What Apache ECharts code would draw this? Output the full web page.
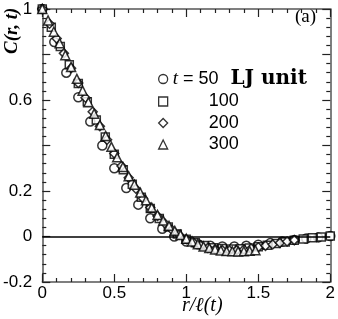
<!DOCTYPE html>
<html><head><meta charset="utf-8">
<script src="https://cdn.jsdelivr.net/npm/echarts@6/dist/echarts.min.js"></script>
<style>html,body{margin:0;padding:0;background:#fff}#c{width:338px;height:319px}</style>
</head><body><div id="c"></div>
<script>
// t = 50
const r50 = [0,0.0833,0.1667,0.25,0.3333,0.4167,0.5,0.5833,0.6667,0.75,0.8333,0.9167,1.0,1.0833,1.1667,1.25,1.3333,1.4167,1.5,1.5833,1.6667,1.75,1.8333,1.9167,2.0];
const c50 = [1.0,0.855,0.72,0.612,0.505,0.40,0.30,0.213,0.14,0.08,0.034,0.0,-0.022,-0.034,-0.041,-0.044,-0.044,-0.041,-0.036,-0.029,-0.022,-0.015,-0.009,-0.004,0.002];
// t = 100
const r100 = [0,0.0625,0.125,0.1875,0.25,0.3125,0.375,0.4375,0.5,0.5625,0.625,0.6875,0.75,0.8125,0.875,0.9375,1.0,1.0625,1.125,1.1875,1.25,1.3125,1.375,1.4375,1.5,1.5625,1.625,1.6875,1.75,1.8125,1.875,1.9375,2.0];
const c100 = [1.0,0.92,0.835,0.755,0.672,0.592,0.512,0.437,0.362,0.293,0.230,0.173,0.123,0.079,0.042,0.011,-0.012,-0.028,-0.040,-0.049,-0.053,-0.055,-0.054,-0.050,-0.045,-0.038,-0.031,-0.024,-0.017,-0.011,-0.006,-0.002,0.002];
// t = 200
const r200 = [0,0.05,0.1,0.15,0.2,0.25,0.3,0.35,0.4,0.45,0.5,0.55,0.6,0.65,0.7,0.75,0.8,0.85,0.9,0.95,1.0,1.05,1.1,1.15,1.2,1.25,1.3,1.35,1.4,1.45,1.5,1.55,1.6,1.65,1.7,1.75];
const c200 = [1.0,0.935,0.87,0.805,0.74,0.675,0.61,0.548,0.485,0.425,0.365,0.31,0.258,0.21,0.167,0.127,0.09,0.058,0.03,0.008,-0.012,-0.027,-0.04,-0.05,-0.056,-0.06,-0.061,-0.06,-0.057,-0.053,-0.047,-0.041,-0.035,-0.028,-0.022,-0.016];
// t = 300
const r300 = [0,0.04,0.08,0.12,0.16,0.2,0.24,0.28,0.32,0.36,0.4,0.44,0.48,0.52,0.56,0.6,0.64,0.68,0.72,0.76,0.8,0.84,0.88,0.92,0.96,1.0,1.04,1.08,1.12,1.16,1.2,1.24,1.28,1.32,1.36,1.4,1.44,1.48];
const c300 = [1.0,0.95,0.9,0.85,0.797,0.745,0.693,0.641,0.59,0.54,0.49,0.442,0.394,0.348,0.306,0.265,0.228,0.193,0.159,0.127,0.095,0.07,0.047,0.025,0.007,-0.01,-0.022,-0.034,-0.044,-0.051,-0.057,-0.061,-0.064,-0.065,-0.066,-0.065,-0.063,-0.06];

const seriesNames = ['50','100','200','300'];
const yTickLabels = ['1','0.6','0.2','0','-0.2'];
const xTickLabels = ['0','0.5','1','1.5','2'];

function pairs(r, c){ return r.map((v,i)=>[v,c[i]]); }

const chart = echarts.init(document.getElementById('c'), null, {renderer:'canvas'});
const axisCol = '#555';
const mk = {color:'#fff', borderColor:'#000', borderWidth:1.5};
function xa(pos, showLab){
  return {type:'value', position:pos, min:0, max:2, interval:0.5,
    axisLine:{show:true, onZero:false, lineStyle:{color:axisCol, width:1.5}},
    axisTick:{show:true, inside:true, length:8, lineStyle:{color:'#222', width:1.2}},
    minorTick:{show:true, splitNumber:5, length:4, lineStyle:{color:'#222', width:1.2}},
    splitLine:{show:false},
    axisLabel:{show:showLab, margin:3, color:'#000', fontFamily:'Liberation Sans', fontSize:17,
      formatter: v => { const s = String(Math.round(v*10)/10); return xTickLabels.includes(s)? s : ''; }}
  };
}
function ya(pos, showLab){
  return {type:'value', position:pos, min:-0.2, max:1, interval:0.2,
    axisLine:{show:true, onZero:false, lineStyle:{color:axisCol, width:1.5}},
    axisTick:{show:true, inside:true, length:8, lineStyle:{color:'#222', width:1.2}},
    minorTick:{show:true, splitNumber:5, length:4, lineStyle:{color:'#222', width:1.2}},
    splitLine:{show:false},
    axisLabel:{show:showLab, margin:10, color:'#000', fontFamily:'Liberation Sans', fontSize:17,
      formatter: v => { const s = String(Math.round(v*100)/100); return yTickLabels.includes(s)? s : ''; }}
  };
}
const symbols = ['circle','rect','diamond','triangle'];
const sizes = [9,8,9,9];
const datas = [pairs(r50,c50), pairs(r100,c100), pairs(r200,c200), pairs(r300,c300)];
const series = seriesNames.map((n,i)=>({
  name:n, type:'scatter', symbol:symbols[i], symbolSize:sizes[i],
  data:datas[i], itemStyle:mk, z:3+i, xAxisIndex:0, yAxisIndex:0
}));
series.unshift({type:'line', data:[], xAxisIndex:0, yAxisIndex:0, z:1,
  markLine:{silent:true, symbol:'none', label:{show:false},
    lineStyle:{color:'#000', type:'solid', width:1.5}, data:[{yAxis:0}]}});

chart.setOption({
  animation:false,
  backgroundColor:'#fff',
  grid:{left:38, right:6, top:9, bottom:37},
  xAxis:[xa('bottom', true), xa('top', false)],
  yAxis:[ya('left', true), ya('right', false)],
  legend:{
    orient:'vertical', left:158, top:69, itemGap:3.5, itemWidth:9, itemHeight:9, padding:0,
    data: seriesNames.map((n,i)=>({name:n, icon:symbols[i]})),
    itemStyle:{color:'#fff', borderColor:'#000', borderWidth:1.3},
    textStyle:{color:'#000', fontFamily:'Liberation Sans', fontSize:18, lineHeight:18,
      rich:{
        it:{fontFamily:'Liberation Serif', fontStyle:'italic', fontSize:19, lineHeight:18},
        b:{fontFamily:'DejaVu Serif', fontWeight:'bold', fontSize:20, lineHeight:18},
        n:{fontFamily:'Liberation Sans', fontSize:18, lineHeight:18},
        gap:{width:12, lineHeight:18},
        pad:{width:36, lineHeight:18}
      }},
    formatter: n => n === seriesNames[0] ? '{it|t} {n|= 50}{gap|}{b|LJ unit}' : '{pad|}{n|' + n + '}'
  },
  graphic:[
    {type:'text', left:295, top:8, style:{text:'(a)', font:'19px "Liberation Serif"', fill:'#000'}},
    {type:'text', x:3, y:54, rotation:Math.PI/2, style:{text:'C(r, t)', font:'italic bold 19px "Liberation Serif"', fill:'#000'}},
    {type:'text', left:182, top:296, style:{text:'r/ℓ(t)', font:'italic 20px "Liberation Serif"', fill:'#000'}}
  ],
  series: series
});
</script></body></html>
